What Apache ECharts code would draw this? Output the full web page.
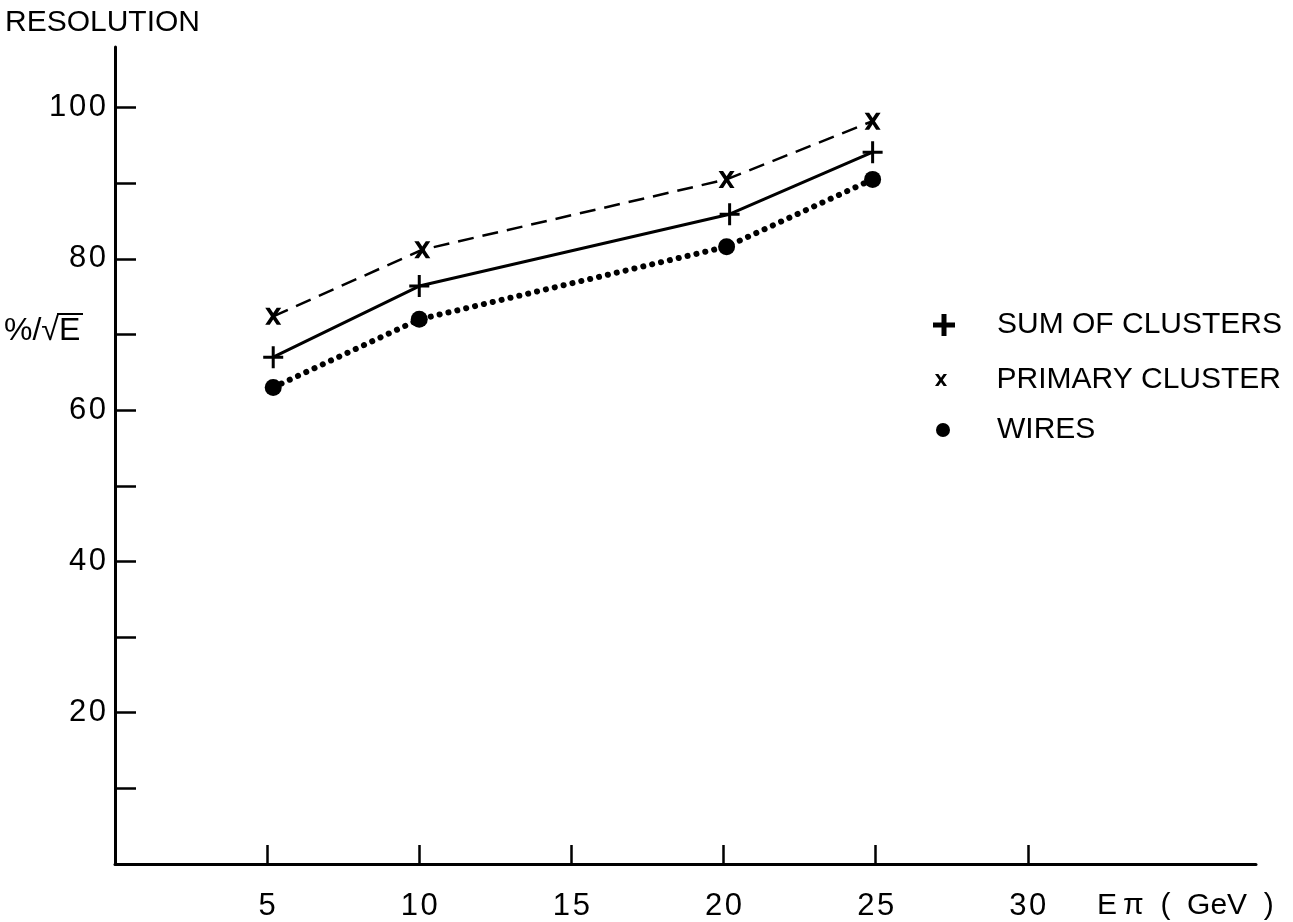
<!DOCTYPE html>
<html>
<head>
<meta charset="utf-8">
<script src="https://cdn.jsdelivr.net/npm/echarts@6/dist/echarts.min.js"></script>
<style>
html,body{margin:0;padding:0;background:#fff;}
#chart{width:1293px;height:922px;}
</style>
</head>
<body>
<div id="chart"></div>
<script>
// ---- data ----
const seriesNames = ['SUM OF CLUSTERS', 'PRIMARY CLUSTER', 'WIRES'];
const sumX  = [5.2, 10.0, 20.2, 24.9];
const sumY  = [67.0, 76.4, 85.9, 94.1];
const primX = [5.2, 10.1, 20.1, 24.9];
const primY = [72.4, 81.2, 90.5, 98.2];
const wireX = [5.2, 10.0, 20.1, 24.9];
const wireY = [63.0, 72.0, 81.6, 90.5];
const xTickValues  = [5, 10, 15, 20, 25, 30];
const yTickValues  = [10, 20, 30, 40, 50, 60, 70, 80, 90, 100];
const yLabelValues = [20, 40, 60, 80, 100];
const yAxisTitle = 'RESOLUTION';
const yUnitTitle = '%/\u221AE';
const xAxisTitle = 'E\u2009\u03C0  (  GeV  )';

// ---- styling ----
const FONT = '"Liberation Sans", Arial, Helvetica, sans-serif';
const spaced = v => String(v).split('').join('\u200A');
const plusThin = 'path://M0,9.5 H20 V12.5 H0 Z M8.5,0 H11.5 V22 H8.5 Z';
const crossBold = 'path://M0,0 L4.5,0 L8,5 L11.5,0 L16,0 L10.3,8 L16,16 L11.5,16 L8,11 L4.5,16 L0,16 L5.7,8 Z';
const plusBold = 'path://M0,8.5 H22 V13.5 H0 Z M8.5,0 H13.5 V22 H8.5 Z';
const pts = (xs, ys) => xs.map((x, i) => [x, ys[i]]);

const chart = echarts.init(document.getElementById('chart'), null, {renderer: 'canvas'});

const legendBase = {
  orient: 'horizontal', padding: 0, selectedMode: false,
  textStyle: {fontFamily: FONT, fontSize: 30, color: '#000', lineHeight: 30}
};

chart.setOption({
  backgroundColor: '#fff',
  animation: false,
  grid: {left: 115, right: 37, top: 47, bottom: 57, containLabel: false},
  xAxis: {
    type: 'value', min: 0, max: 37.5,
    axisLine: {show: true, lineStyle: {color: '#000', width: 3}},
    axisTick: {show: true, inside: true, length: 19, customValues: xTickValues,
               lineStyle: {color: '#000', width: 2.5}},
    axisLabel: {show: true, customValues: xTickValues, formatter: spaced, margin: 27,
                fontFamily: FONT, fontSize: 31, color: '#000'},
    splitLine: {show: false}
  },
  yAxis: {
    type: 'value', min: 0, max: 108,
    axisLine: {show: true, lineStyle: {color: '#000', width: 3}},
    axisTick: {show: true, inside: true, length: 21, customValues: yTickValues,
               lineStyle: {color: '#000', width: 2.5}},
    axisLabel: {show: true, customValues: yLabelValues, formatter: spaced, margin: 9,
                fontFamily: FONT, fontSize: 31, color: '#000'},
    splitLine: {show: false}
  },
  legend: [
    Object.assign({}, legendBase, {left: 933, top: 310, itemWidth: 22, itemHeight: 22,
      data: [{name: seriesNames[0], icon: plusBold}],
      textStyle: Object.assign({}, legendBase.textStyle, {padding: [0, 0, 0, 37]})}),
    Object.assign({}, legendBase, {left: 935, top: 365, itemWidth: 13, itemHeight: 12,
      data: [{name: seriesNames[1], icon: crossBold}],
      textStyle: Object.assign({}, legendBase.textStyle, {padding: [0, 0, 0, 44]})}),
    Object.assign({}, legendBase, {left: 936, top: 415, itemWidth: 14, itemHeight: 14,
      data: [{name: seriesNames[2], icon: 'circle'}],
      textStyle: Object.assign({}, legendBase.textStyle, {padding: [0, 0, 0, 42]})})
  ],
  series: [
    {
      name: seriesNames[0], type: 'line', data: pts(sumX, sumY),
      symbol: plusThin, symbolSize: [20, 22],
      itemStyle: {color: '#000'},
      lineStyle: {color: '#000', width: 3, type: 'solid'},
      emphasis: {disabled: true}, z: 3
    },
    {
      name: seriesNames[1], type: 'line', data: pts(primX, primY),
      symbol: crossBold, symbolSize: [16, 17],
      itemStyle: {color: '#000'},
      lineStyle: {color: '#000', width: 2.5, type: [16, 9]},
      emphasis: {disabled: true}, z: 3
    },
    {
      name: seriesNames[2], type: 'line', data: pts(wireX, wireY),
      symbol: 'circle', symbolSize: 17,
      itemStyle: {color: '#000'},
      lineStyle: {color: '#000', width: 6, type: [0.1, 9], cap: 'round'},
      emphasis: {disabled: true}, z: 3
    }
  ],
  graphic: [
    {type: 'text', left: 5, top: 8,
     style: {text: yAxisTitle, fontFamily: FONT, fontSize: 30, fill: '#000'}},
    {type: 'text', x: 4, y: 331,
     style: {text: yUnitTitle, fontFamily: FONT, fontSize: 32, fill: '#000', verticalAlign: 'middle'}},
    {type: 'line', shape: {x1: 57, y1: 314, x2: 83, y2: 314},
     style: {stroke: '#000', lineWidth: 2}},
    {type: 'text', x: 1097, y: 906,
     style: {text: xAxisTitle, fontFamily: FONT, fontSize: 30, fill: '#000', verticalAlign: 'middle'}}
  ]
});
</script>
</body>
</html>
